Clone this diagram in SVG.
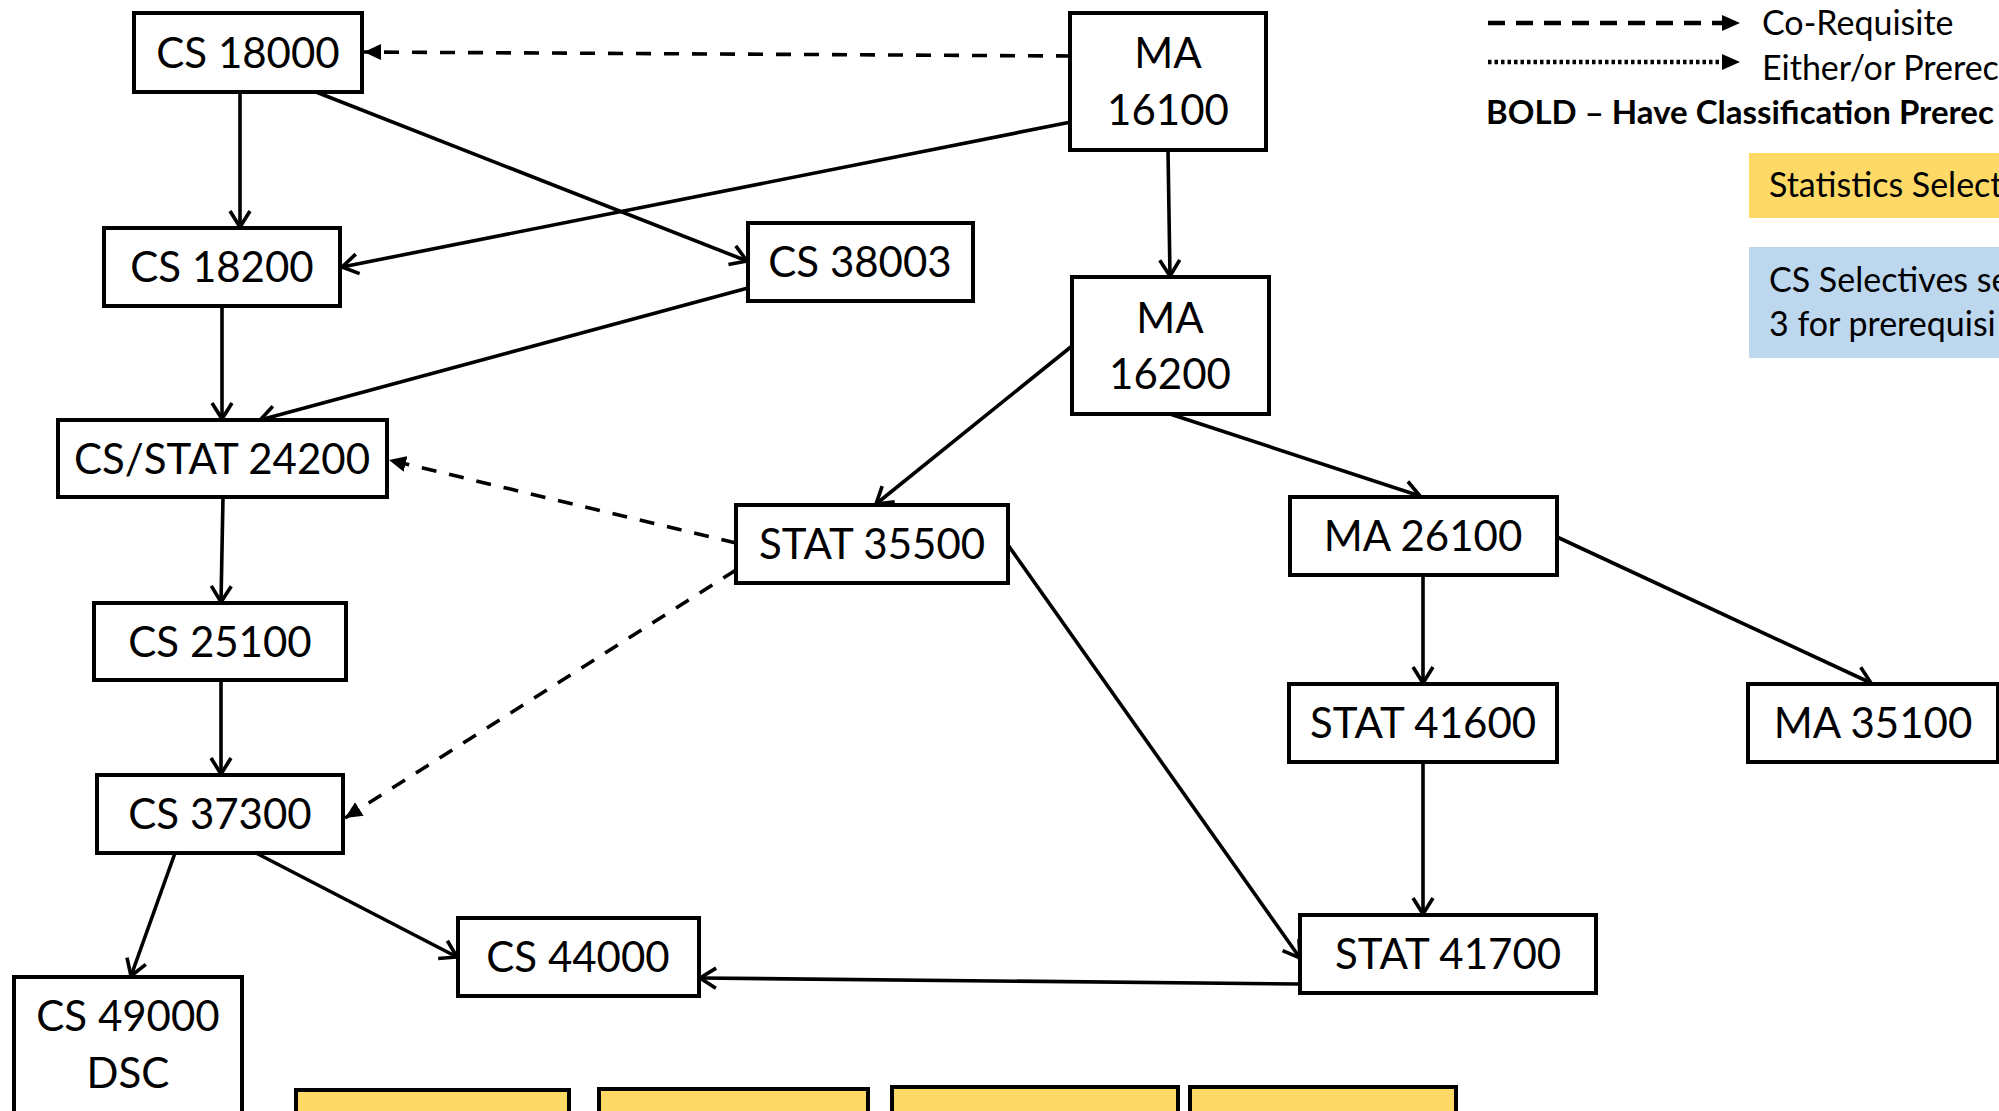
<svg xmlns="http://www.w3.org/2000/svg" width="1999" height="1111" viewBox="0 0 1999 1111">
<style>
.box{fill:#fff;stroke:#000;stroke-width:4}
.ybox{fill:#FFD966;stroke:#000;stroke-width:4}
.t{font-family:Lato,"Open Sans","Liberation Sans",sans-serif;font-size:42px;fill:#000;text-anchor:middle}
.lg{font-family:Lato,"Open Sans","Liberation Sans",sans-serif;font-size:34px;fill:#000}
.lgb{font-family:Lato,"Open Sans","Liberation Sans",sans-serif;font-size:33px;font-weight:bold;fill:#000}
.c{fill:none;stroke:#000;stroke-width:3.6}
.solid{marker-end:url(#open)}
.dash{stroke-dasharray:15 13;marker-end:url(#tri)}
</style>
<defs>
<marker id="open" markerWidth="24" markerHeight="26" refX="20" refY="13" orient="auto" markerUnits="userSpaceOnUse">
<path d="M4,3 L20,13 L4,23" fill="none" stroke="#000" stroke-width="3.6"/>
</marker>
<marker id="tri" markerWidth="18" markerHeight="16" refX="17" refY="8" orient="auto" markerUnits="userSpaceOnUse">
<path d="M0,0 L17,8 L0,16 z" fill="#000"/>
</marker>
</defs>
<rect width="1999" height="1111" fill="#fff"/>

<g id="connectors">
<line class="c dash" x1="1071" y1="56" x2="364" y2="52"/>
<line class="c solid" x1="240" y1="88" x2="240" y2="227"/>
<line class="c solid" x1="316" y1="92" x2="747" y2="261"/>
<line class="c solid" x1="1071" y1="122" x2="342" y2="267"/>
<line class="c solid" x1="222" y1="306" x2="222" y2="419"/>
<line class="c solid" x1="748" y1="288" x2="260" y2="420"/>
<line class="c solid" x1="1168" y1="150" x2="1170" y2="276"/>
<line class="c solid" x1="1072" y1="346" x2="876" y2="504"/>
<line class="c solid" x1="1170" y1="414" x2="1420" y2="496"/>
<line class="c dash" x1="736" y1="543" x2="389" y2="460"/>
<line class="c dash" x1="736" y1="570" x2="345" y2="818"/>
<line class="c solid" x1="1008" y1="545" x2="1300" y2="958"/>
<line class="c solid" x1="1423" y1="575" x2="1423" y2="683"/>
<line class="c solid" x1="1557" y1="537" x2="1871" y2="683"/>
<line class="c solid" x1="1423" y1="762" x2="1423" y2="914"/>
<line class="c solid" x1="1300" y1="984" x2="700" y2="978"/>
<line class="c solid" x1="223" y1="497" x2="221" y2="602"/>
<line class="c solid" x1="221" y1="680" x2="221" y2="774"/>
<line class="c solid" x1="175" y1="853" x2="131" y2="976"/>
<line class="c solid" x1="256" y1="853" x2="457" y2="957"/>
</g>

<g id="cs18000"><rect class="box" x="134" y="13" width="228" height="79"/><text class="t" x="248" y="68">CS 18000</text></g>
<g id="ma16100"><rect class="box" x="1070" y="13" width="196" height="137"/><text class="t" x="1168" y="68">MA</text><text class="t" x="1168" y="125">16100</text></g>
<g id="cs18200"><rect class="box" x="104" y="228" width="236" height="78"/><text class="t" x="222" y="282">CS 18200</text></g>
<g id="cs38003"><rect class="box" x="748" y="223" width="225" height="78"/><text class="t" x="860" y="277">CS 38003</text></g>
<g id="ma16200"><rect class="box" x="1072" y="277" width="197" height="137"/><text class="t" x="1170" y="333">MA</text><text class="t" x="1170" y="389">16200</text></g>
<g id="csstat24200"><rect class="box" x="58" y="420" width="329" height="77"/><text class="t" x="222" y="474">CS/STAT 24200</text></g>
<g id="stat35500"><rect class="box" x="736" y="505" width="272" height="78"/><text class="t" x="872" y="559">STAT 35500</text></g>
<g id="ma26100"><rect class="box" x="1290" y="497" width="267" height="78"/><text class="t" x="1423" y="551">MA 26100</text></g>
<g id="cs25100"><rect class="box" x="94" y="603" width="252" height="77"/><text class="t" x="220" y="657">CS 25100</text></g>
<g id="stat41600"><rect class="box" x="1289" y="684" width="268" height="78"/><text class="t" x="1423" y="738">STAT 41600</text></g>
<g id="ma35100"><rect class="box" x="1748" y="684" width="250" height="78"/><text class="t" x="1873" y="738">MA 35100</text></g>
<g id="cs37300"><rect class="box" x="97" y="775" width="246" height="78"/><text class="t" x="220" y="829">CS 37300</text></g>
<g id="cs44000"><rect class="box" x="458" y="918" width="241" height="78"/><text class="t" x="578" y="972">CS 44000</text></g>
<g id="stat41700"><rect class="box" x="1300" y="915" width="296" height="78"/><text class="t" x="1448" y="969">STAT 41700</text></g>
<g id="cs49000"><rect class="box" x="14" y="977" width="228" height="150"/><text class="t" x="128" y="1031">CS 49000</text><text class="t" x="128" y="1088">DSC</text></g>

<g id="bottom-boxes">
<rect class="ybox" x="296" y="1090" width="273" height="40"/>
<rect class="ybox" x="599" y="1089" width="269" height="40"/>
<rect class="ybox" x="892" y="1087" width="286" height="40"/>
<rect class="ybox" x="1190" y="1087" width="266" height="40"/>
</g>

<g id="legend">
<line x1="1488" y1="23" x2="1724" y2="23" stroke="#000" stroke-width="4.5" stroke-dasharray="17 11"/>
<path d="M1722,15 L1740,23 L1722,31 z" fill="#000"/>
<text class="lg" x="1762" y="35">Co-Requisite</text>
<line x1="1488" y1="62" x2="1724" y2="62" stroke="#000" stroke-width="4.5" stroke-dasharray="3.5 3"/>
<path d="M1722,54 L1740,62 L1722,70 z" fill="#000"/>
<text class="lg" x="1762" y="80">Either/or Prerec</text>
<text class="lgb" x="1486" y="124">BOLD – Have Classification Prerec</text>
</g>
<g id="stat-selectives"><rect x="1749" y="153" width="260" height="65" fill="#FFD966"/><text class="lg" x="1769" y="197">Statistics Select</text></g>
<g id="cs-selectives"><rect x="1749" y="247" width="260" height="111" fill="#BDD7EE"/><text class="lg" x="1769" y="292">CS Selectives se</text><text class="lg" x="1769" y="336">3 for prerequisi</text></g>
</svg>
